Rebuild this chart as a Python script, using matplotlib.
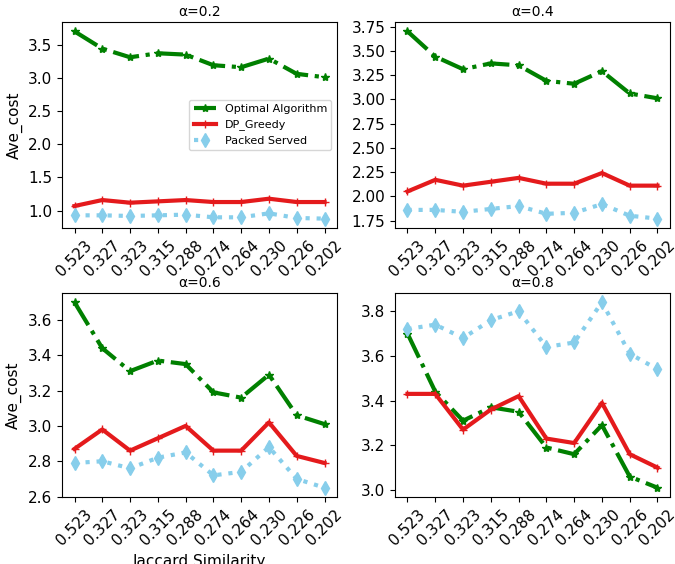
import matplotlib
matplotlib.use("Agg")
import matplotlib.pyplot as plt
from matplotlib.ticker import MultipleLocator

jaccard = ["0.523", "0.327", "0.323", "0.315", "0.288", "0.274", "0.264", "0.230", "0.226", "0.202"]
alphas = ["α=0.2", "α=0.4", "α=0.6", "α=0.8"]

optimal = [3.70, 3.44, 3.31, 3.37, 3.35, 3.19, 3.16, 3.29, 3.06, 3.01]

dp_greedy_02 = [1.07, 1.16, 1.12, 1.14, 1.16, 1.13, 1.13, 1.18, 1.13, 1.13]
packed_02 = [0.93, 0.93, 0.92, 0.93, 0.94, 0.90, 0.90, 0.96, 0.89, 0.88]

dp_greedy_04 = [2.05, 2.17, 2.11, 2.15, 2.19, 2.13, 2.13, 2.24, 2.11, 2.11]
packed_04 = [1.86, 1.86, 1.84, 1.87, 1.90, 1.82, 1.83, 1.92, 1.80, 1.77]

dp_greedy_06 = [2.87, 2.98, 2.86, 2.93, 3.00, 2.86, 2.86, 3.02, 2.83, 2.79]
packed_06 = [2.79, 2.80, 2.76, 2.82, 2.85, 2.72, 2.74, 2.88, 2.70, 2.65]

dp_greedy_08 = [3.43, 3.43, 3.27, 3.36, 3.42, 3.23, 3.21, 3.39, 3.16, 3.10]
packed_08 = [3.72, 3.74, 3.68, 3.76, 3.80, 3.64, 3.66, 3.84, 3.61, 3.54]

dp_sets = [dp_greedy_02, dp_greedy_04, dp_greedy_06, dp_greedy_08]
packed_sets = [packed_02, packed_04, packed_06, packed_08]
y_steps = [0.5, 0.25, 0.2, 0.2]

W, H = 675, 564
fig = plt.figure(figsize=(W / 100, H / 100), dpi=100)

# axes boxes in pixels: (left, top, right, bottom)
boxes = [(62, 22, 337, 228), (395, 22, 670, 228),
         (62, 293, 337, 497), (395, 293, 670, 497)]

x = list(range(len(jaccard)))
for i, (l, t, r, b) in enumerate(boxes):
    ax = fig.add_axes([l / W, 1 - b / H, (r - l) / W, (b - t) / H])
    ax.plot(x, optimal, color="green", linestyle="-.", linewidth=3,
            marker="*", markersize=6, label="Optimal Algorithm")
    ax.plot(x, dp_sets[i], color="#e41a1c", linestyle="-", linewidth=3,
            marker="+", markersize=6, label="DP_Greedy")
    ax.plot(x, packed_sets[i], color="skyblue", linestyle=":", linewidth=3,
            marker="d", markersize=7, label="Packed Served")
    ax.set_xticks(x)
    ax.set_xticklabels(jaccard, rotation=45, fontsize=11)
    ax.yaxis.set_major_locator(MultipleLocator(y_steps[i]))
    ax.yaxis.set_major_formatter(plt.FormatStrFormatter("%.2f" if i == 1 else "%.1f"))
    ax.tick_params(axis="y", labelsize=11)
    ax.set_title(alphas[i], fontsize=10, pad=4)
    if i in (0, 2):
        ax.set_ylabel("Ave_cost", fontsize=11)
    if i == 2:
        ax.set_xlabel("Jaccard Similarity", fontsize=11)
    if i == 0:
        ax.legend(loc="center right", fontsize=8)

fig.savefig("out.png", dpi=100)
